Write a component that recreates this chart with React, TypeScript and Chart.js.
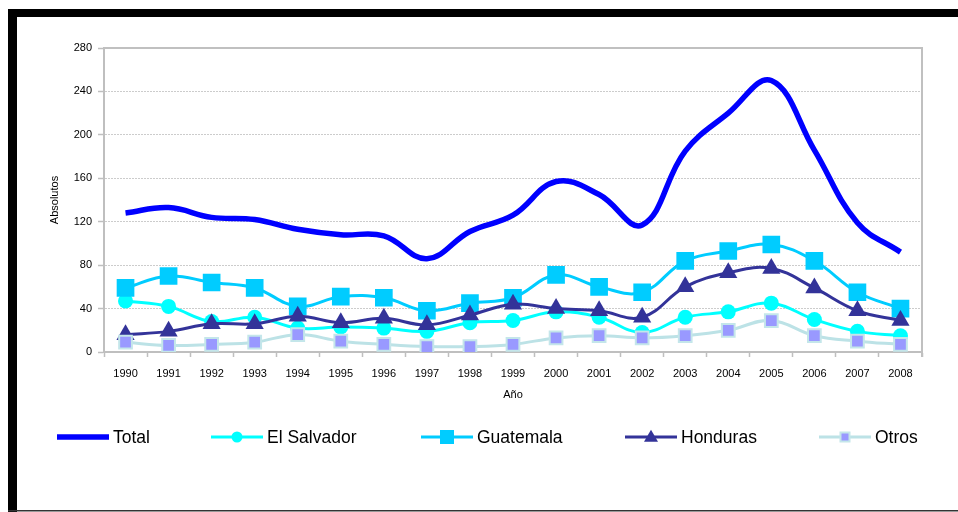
import React, { useEffect, useRef } from 'react';
import { Chart, registerables } from 'chart.js';

Chart.register(...registerables);

const years = ['1990', '1991', '1992', '1993', '1994', '1995', '1996', '1997', '1998', '1999', '2000', '2001', '2002', '2003', '2004', '2005', '2006', '2007', '2008'];
const total = [128, 133, 124, 122, 113, 108, 107, 86, 111, 126, 157, 145, 117, 185, 220, 250, 186, 119, 92];
const elSalvador = [47, 42, 28, 32, 22, 23, 22, 19, 27, 29, 37, 32, 18, 32, 37, 45, 30, 19, 15];
const guatemala = [59, 70, 64, 59, 42, 51, 50, 38, 45, 50, 71, 60, 55, 84, 93, 99, 84, 55, 40];
const honduras = [16, 19, 26, 26, 33, 27, 31, 25, 34, 44, 40, 38, 32, 60, 73, 77, 59, 38, 29];
const otros = [9, 6, 7, 9, 16, 10, 7, 5, 5, 7, 13, 15, 13, 15, 20, 29, 15, 10, 7];
const yTicksMax = 280;
const yStep = 40;

const FONT = '"Liberation Sans", Arial, Helvetica, sans-serif';

type Marker = 'none' | 'circle' | 'rect' | 'triangle';

function drawMarker(ctx: CanvasRenderingContext2D, type: Marker, x: number, y: number, size: number, fill: string, stroke: string, sw: number) {
  if (type === 'none') return;
  ctx.save();
  ctx.fillStyle = fill;
  ctx.strokeStyle = stroke;
  ctx.lineWidth = sw;
  ctx.beginPath();
  if (type === 'circle') {
    ctx.arc(x, y, size / 2, 0, Math.PI * 2);
  } else if (type === 'rect') {
    ctx.rect(x - size / 2, y - size / 2, size, size);
  } else if (type === 'triangle') {
    const h = size * 0.866;
    ctx.moveTo(x, y - h * 0.6);
    ctx.lineTo(x + size / 2, y + h * 0.4);
    ctx.lineTo(x - size / 2, y + h * 0.4);
    ctx.closePath();
  }
  ctx.fill();
  if (sw > 0) ctx.stroke();
  ctx.restore();
}

export default function App() {
  const ref = useRef<HTMLCanvasElement>(null);

  useEffect(() => {
    const canvas = ref.current;
    if (!canvas) return;

    const legendSpec: { x: number; marker: Marker; size: number; fill: string; stroke: string; sw: number }[] = [
      { x: 57, marker: 'none', size: 0, fill: '', stroke: '', sw: 0 },
      { x: 211, marker: 'circle', size: 11, fill: '#00FFFF', stroke: '#00FFFF', sw: 0 },
      { x: 421, marker: 'rect', size: 14, fill: '#00CCFF', stroke: '#00CCFF', sw: 0 },
      { x: 625, marker: 'triangle', size: 14, fill: '#333399', stroke: '#333399', sw: 0 },
      { x: 819, marker: 'rect', size: 9, fill: '#9999FF', stroke: '#C4E6EA', sw: 2 },
    ];

    const decor = {
      id: 'decor',
      beforeDraw(chart: any) {
        const ctx = chart.ctx as CanvasRenderingContext2D;
        ctx.save();
        ctx.fillStyle = '#ffffff';
        ctx.fillRect(0, 0, chart.width, chart.height);
        ctx.restore();
      },
      beforeDatasetsDraw(chart: any) {
        const ctx = chart.ctx as CanvasRenderingContext2D;
        const { left, top, right, bottom } = chart.chartArea;
        ctx.save();
        ctx.strokeStyle = '#c0c0c0';
        ctx.lineWidth = 2;
        ctx.beginPath();
        ctx.moveTo(left, top);
        ctx.lineTo(right, top);
        ctx.lineTo(right, bottom + 5);
        ctx.stroke();
        ctx.restore();
      },
      afterDraw(chart: any) {
        const ctx = chart.ctx as CanvasRenderingContext2D;
        ctx.save();
        // frame
        ctx.fillStyle = '#000000';
        ctx.fillRect(8, 9, 950, 8);
        ctx.fillRect(8, 9, 9, 503);
        ctx.fillStyle = '#333333';
        ctx.fillRect(8, 510, 950, 1.5);
        // legend
        const ly = 437;
        chart.data.datasets.forEach((ds: any, i: number) => {
          const spec = legendSpec[i];
          ctx.save();
          ctx.strokeStyle = ds.borderColor;
          ctx.lineWidth = ds.borderWidth;
          ctx.beginPath();
          ctx.moveTo(spec.x, ly);
          ctx.lineTo(spec.x + 52, ly);
          ctx.stroke();
          ctx.restore();
          drawMarker(ctx, spec.marker, spec.x + 26, ly, spec.size, spec.fill, spec.stroke, spec.sw);
          ctx.fillStyle = '#000000';
          ctx.font = `17.5px ${FONT}`;
          ctx.textBaseline = 'middle';
          ctx.textAlign = 'left';
          ctx.fillText(ds.label, spec.x + 56, ly + 1);
        });
        ctx.restore();
      },
    };

    const tickFont = { family: FONT, size: 11 };

    const chart = new Chart(canvas, {
      type: 'line',
      data: {
        labels: years,
        datasets: [
          { label: 'Total', data: total, borderColor: '#0000FF', backgroundColor: '#0000FF', borderWidth: 5.5, pointRadius: 0, tension: 0.4, order: 5 },
          { label: 'El Salvador', data: elSalvador, borderColor: '#00FFFF', backgroundColor: '#00FFFF', borderWidth: 3, pointStyle: 'circle', pointRadius: 7.5, pointBorderWidth: 0, pointBackgroundColor: '#00FFFF', tension: 0.4, order: 4 },
          { label: 'Guatemala', data: guatemala, borderColor: '#00CCFF', backgroundColor: '#00CCFF', borderWidth: 3, pointStyle: 'rect', pointRadius: 12.5, pointBorderWidth: 0, pointBackgroundColor: '#00CCFF', tension: 0.4, order: 3 },
          { label: 'Honduras', data: honduras, borderColor: '#333399', backgroundColor: '#333399', borderWidth: 3, pointStyle: 'triangle', pointRadius: 10.5, pointBorderWidth: 0, pointBackgroundColor: '#333399', tension: 0.4, order: 2 },
          { label: 'Otros', data: otros, borderColor: '#BCE2E6', backgroundColor: '#9999FF', borderWidth: 3, pointStyle: 'rect', pointRadius: 9, pointBorderWidth: 2, pointBorderColor: '#C4E6EA', pointBackgroundColor: '#9999FF', tension: 0.4, order: 1 },
        ],
      } as any,
      options: {
        responsive: false,
        maintainAspectRatio: false,
        animation: false,
        devicePixelRatio: 1,
        layout: { padding: { left: 48, top: 48, right: 36, bottom: 110 } },
        plugins: { legend: { display: false }, tooltip: { enabled: false } },
        elements: { line: { clip: false } as any },
        scales: {
          x: {
            type: 'category',
            offset: true,
            grid: { offset: true, drawOnChartArea: false, drawTicks: true, tickLength: 5, tickColor: '#bfbfbf', tickWidth: 1.5 },
            border: { display: true, color: '#bfbfbf', width: 2 },
            ticks: { font: tickFont, color: '#000000', padding: 10, maxRotation: 0, autoSkip: false },
            title: { display: true, text: 'Año', font: tickFont, color: '#000000', padding: 0 },
            afterFit(scale: any) { scale.height = 50; },
          },
          y: {
            min: 0,
            max: yTicksMax,
            ticks: { stepSize: yStep, font: tickFont, color: '#000000', padding: 6 },
            grid: { color: '#cccccc', lineWidth: 1, tickLength: 6, tickColor: '#bfbfbf', tickWidth: 1.5 },
            border: { display: true, color: '#bfbfbf', width: 2, dash: [2, 1] },
            title: { display: true, text: 'Absolutos', font: tickFont, color: '#000000', padding: 0 },
            afterFit(scale: any) { scale.width = 56; },
          },
        },
      } as any,
      plugins: [decor],
    });

    return () => chart.destroy();
  }, []);

  return (
    <div style={{ position: 'fixed', left: 0, top: 0, width: 958, height: 512, background: '#fff' }}>
      <canvas ref={ref} width={958} height={512} style={{ display: 'block', width: 958, height: 512 }} />
    </div>
  );
}
